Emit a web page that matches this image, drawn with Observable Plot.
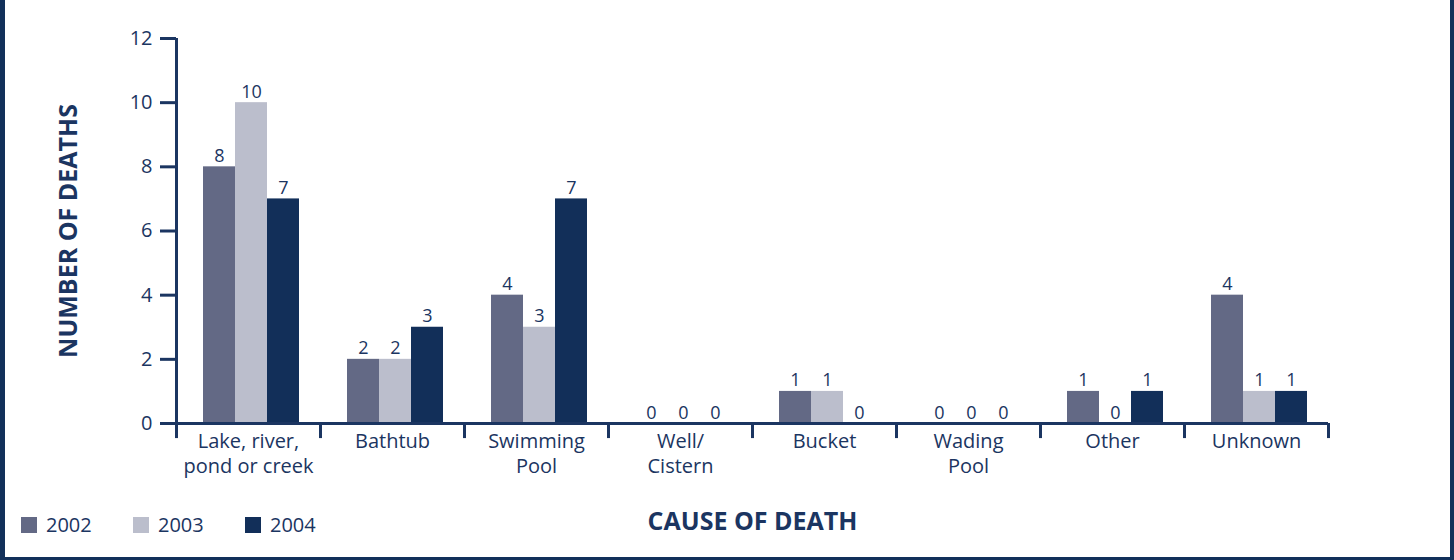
<!DOCTYPE html>
<html><head><meta charset="utf-8">
<script src="https://cdn.jsdelivr.net/npm/d3@7"></script>
<script src="https://cdn.jsdelivr.net/npm/@observablehq/plot@0.6"></script>
<style>
html,body{margin:0;padding:0;background:#fff;}
#wrap{position:relative;width:1454px;height:560px;overflow:hidden;font-family:"Open Sans",sans-serif;}
#border{position:absolute;left:0;top:0;width:1454px;height:560px;box-sizing:border-box;border-left:5px solid #12305a;border-right:4px solid #12305a;border-bottom:3px solid #12305a;pointer-events:none;}
#legend{position:absolute;left:21px;top:508px;}
#legend .lg-swatch{width:112px;margin-right:0;font-size:20px;color:#1b3561;}
#legend .lg-swatch svg{margin-right:9px;}
g[aria-label="y-axis label"] text, g[aria-label="fx-axis label"] text{font-weight:bold;font-size:25px;}
</style></head>
<body><div id="wrap"><div id="chart"></div><div id="legend"></div><div id="border"></div></div>
<script>
const categories = ["Lake, river,\npond or creek","Bathtub","Swimming\nPool","Well/\nCistern","Bucket","Wading\nPool","Other","Unknown"];
const years = ["2002","2003","2004"];
const deaths2002 = [8,2,4,0,1,0,1,4];
const deaths2003 = [10,2,3,0,1,0,0,1];
const deaths2004 = [7,3,7,0,0,0,1,1];
const yTicks = [0,2,4,6,8,10,12];
const colors = ["#636985","#bbbecc","#122f59"];
const series = [deaths2002, deaths2003, deaths2004];
const data = categories.flatMap((c,i)=> years.map((y,j)=>({cause:c, year:y, value: series[j][i]})));
const ink = "#1b3561";

const plot = Plot.plot({
  width:1454, height:560,
  marginLeft:176, marginRight:126, marginTop:38, marginBottom:137,
  style:{fontFamily:'"Open Sans", sans-serif', color: ink, background:"transparent", overflow:"visible"},
  fx:{domain:categories, padding:0},
  x:{domain:years, paddingInner:0, paddingOuter:0.75, axis:null},
  y:{domain:[0,12]},
  color:{domain:years, range:colors},
  marks:[
    Plot.barY(data,{fx:"cause", x:"year", y:"value", fill:"year", dx:3}),
    Plot.text(data,{fx:"cause", x:"year", y:"value", text:d=>String(d.value), dx:3, dy:-5, lineAnchor:"bottom", fill:ink, fontSize:18}),
    Plot.ruleY([0],{stroke:ink, strokeWidth:3}),
    Plot.ruleX(categories,{fx:d=>d, x:()=>"2002", y1:-0.47, y2:0, dx:-40, stroke:ink, strokeWidth:3}),
    Plot.ruleX([categories[0]],{fx:d=>d, x:()=>"2002", y1:0, y2:12, dx:-40, stroke:ink, strokeWidth:3}),
    Plot.ruleX([categories[categories.length-1]],{fx:d=>d, x:()=>"2004", y1:-0.47, y2:0, dx:40, stroke:ink, strokeWidth:3}),
    Plot.axisY({ticks:yTicks, tickSize:16, tickPadding:8, fontSize:20, color:ink, strokeWidth:3, label:"NUMBER OF DEATHS", labelAnchor:"center", labelOffset:117, labelArrow:false}),
    Plot.axisFx({anchor:"bottom", tickSize:0, tickPadding:7, fontSize:20, lineHeight:1.25, color:ink, label:"CAUSE OF DEATH", labelAnchor:"center", labelOffset:106, labelArrow:false})
  ]
});
document.getElementById("chart").appendChild(plot);
const lg = Plot.legend({color:{domain:years, range:colors}, legend:"swatches", swatchSize:16, className:"lg", style:{fontFamily:'"Open Sans", sans-serif', fontSize:"20px", color:ink}});
document.getElementById("legend").appendChild(lg);
</script>
</body></html>
